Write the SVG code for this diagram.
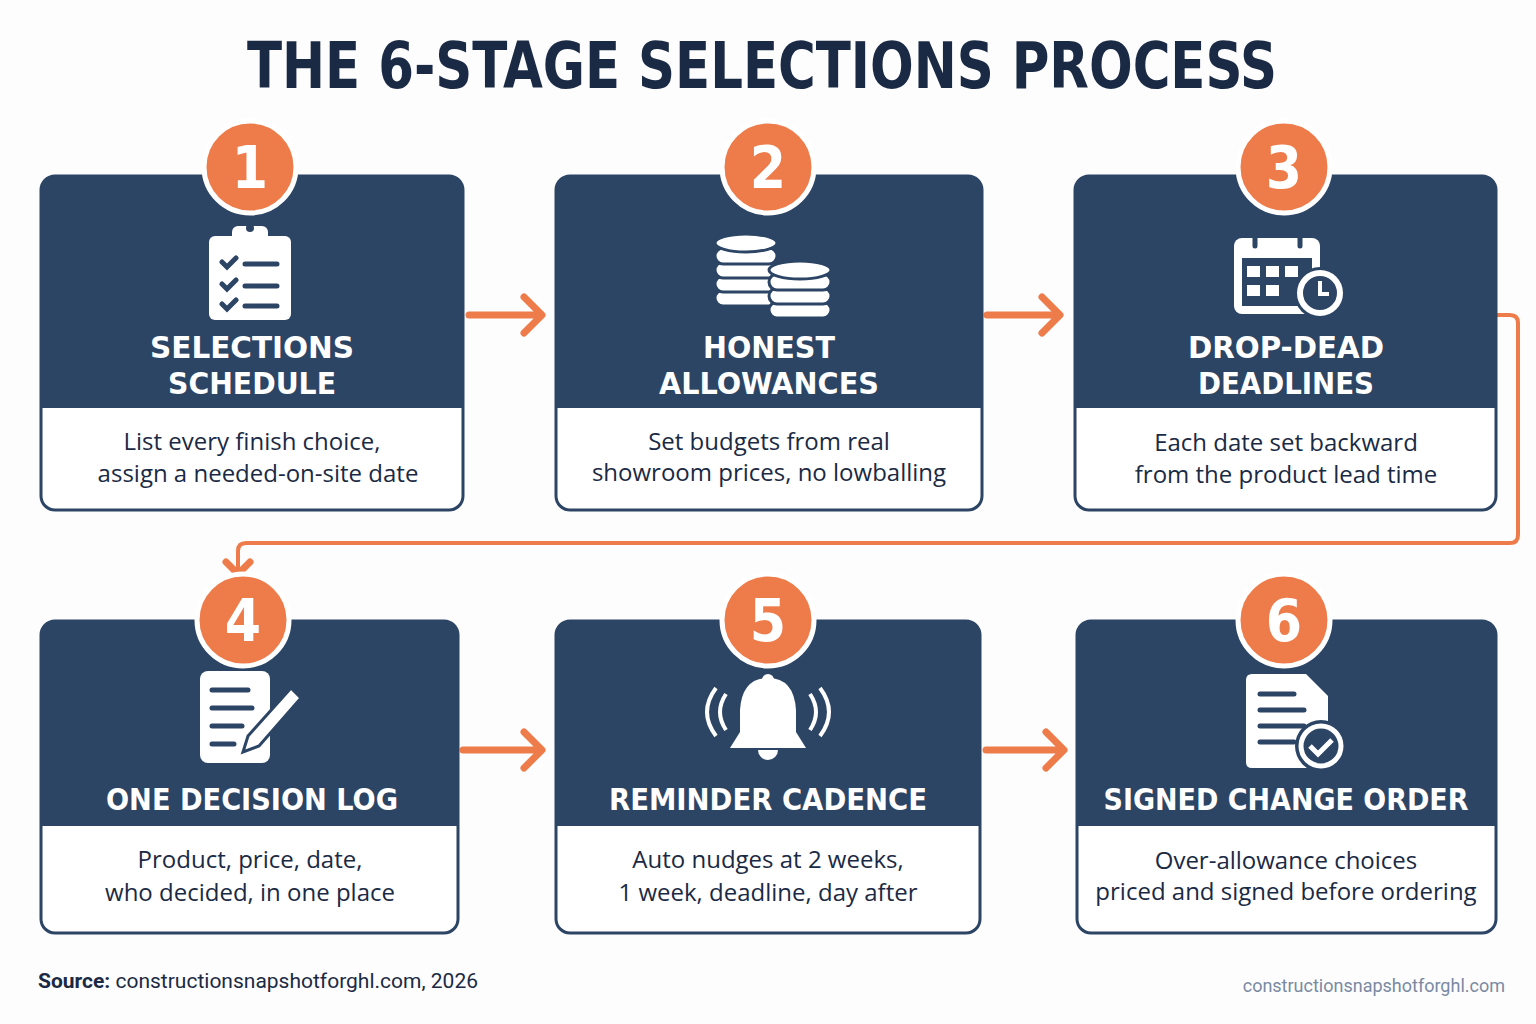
<svg xmlns="http://www.w3.org/2000/svg" width="1536" height="1024" viewBox="0 0 1536 1024">
<defs>
<style>
.hd{fill:#2d4565}
.bd{fill:#fff;stroke:#2d4565;stroke-width:3}
.num{fill:#ee7b4a;stroke:#fff;stroke-width:5}
.nt{font-family:"DejaVu Sans Condensed","DejaVu Sans",sans-serif;font-weight:bold;font-size:58px;fill:#fff;text-anchor:middle}
.tt{font-family:"DejaVu Sans Condensed","DejaVu Sans",sans-serif;font-weight:bold;font-size:31px;fill:#fff;text-anchor:middle}
.bt{font-family:"Open Sans",sans-serif;font-size:24px;fill:#1b2a44;text-anchor:middle}
.ar{stroke:#ee7b4a;stroke-width:7;fill:none;stroke-linecap:round;stroke-linejoin:round}
.ic{fill:#fff}
.icd{stroke:#2d4565;stroke-width:5;fill:none;stroke-linecap:round}
</style>
</defs>
<rect width="1536" height="1024" fill="#fdfdfd"/>
<text x="762" y="88" font-family="DejaVu Sans Condensed,DejaVu Sans,sans-serif" font-weight="bold" font-size="64" fill="#1b2a44" text-anchor="middle" textLength="1030" lengthAdjust="spacingAndGlyphs">THE 6-STAGE SELECTIONS PROCESS</text>

<g id="connectors">
<path class="ar" d="M469 315H540M524 297L542 315L524 333"/>
<path class="ar" d="M987 315H1058M1042 297L1060 315L1042 333"/>
<path class="ar" d="M463 750H540M524 732L542 750L524 768"/>
<path class="ar" d="M986 750H1062M1046 732L1064 750L1046 768"/>
<path stroke="#ee7b4a" stroke-width="4" fill="none" d="M1496 315H1510Q1518 315 1518 323V535Q1518 543 1510 543H246Q238 543 238 551V572"/>
<path class="ar" stroke-width="4" d="M226 562L238 574L250 562"/>
</g>

<g id="n1">
<rect class="bd" x="41" y="176" width="422" height="334" rx="14"/>
<path class="hd" d="M41 190Q41 176 55 176H449Q463 176 463 190V408H41Z"/>
<rect class="ic" x="209" y="236" width="82" height="84" rx="6"/>
<rect class="ic" x="232" y="226" width="36" height="18" rx="6"/><circle cx="250" cy="228" r="4" fill="#2d4565"/>
<path class="icd" d="M222 262l5 5 9-9M245 264h32M222 284l5 5 9-9M245 286h32M222 304l5 5 9-9M245 306h32"/>
<text class="tt" x="252" y="358" textLength="204" lengthAdjust="spacingAndGlyphs">SELECTIONS</text><text class="tt" x="252" y="394" textLength="168" lengthAdjust="spacingAndGlyphs">SCHEDULE</text>
<text class="bt" x="252" y="450">List every finish choice,</text><text class="bt" x="258" y="482">assign a needed-on-site date</text>
<circle class="num" cx="250" cy="167" r="46"/><text class="nt" x="250" y="188">1</text>
</g>

<g id="n2">
<rect class="bd" x="556" y="176" width="426" height="334" rx="14"/>
<path class="hd" d="M556 190Q556 176 570 176H968Q982 176 982 190V408H556Z"/>
<g class="ic" stroke="#2d4565" stroke-width="3"><rect x="715" y="290" width="62" height="16" rx="8"/><rect x="715" y="276" width="62" height="16" rx="8"/><rect x="715" y="262" width="62" height="16" rx="8"/><rect x="715" y="248" width="62" height="16" rx="8"/><ellipse cx="746" cy="243" rx="31" ry="9"/>
<rect x="769" y="302" width="62" height="16" rx="8"/><rect x="769" y="288" width="62" height="16" rx="8"/><rect x="769" y="274" width="62" height="16" rx="8"/><ellipse cx="800" cy="270" rx="31" ry="9"/></g>
<text class="tt" x="769" y="358" textLength="132" lengthAdjust="spacingAndGlyphs">HONEST</text><text class="tt" x="769" y="394" textLength="220" lengthAdjust="spacingAndGlyphs">ALLOWANCES</text>
<text class="bt" x="769" y="450">Set budgets from real</text><text class="bt" x="769" y="481">showroom prices, no lowballing</text>
<circle class="num" cx="768" cy="167" r="46"/><text class="nt" x="768" y="188">2</text>
</g>

<g id="n3">
<rect class="bd" x="1075" y="176" width="421" height="334" rx="14"/>
<path class="hd" d="M1075 190Q1075 176 1089 176H1482Q1496 176 1496 190V408H1075Z"/>
<rect class="ic" x="1234" y="238" width="86" height="76" rx="8"/>
<rect x="1242" y="258" width="70" height="48" fill="#2d4565"/>
<g class="ic"><rect x="1247" y="266" width="13" height="11"/><rect x="1266" y="266" width="13" height="11"/><rect x="1285" y="266" width="13" height="11"/><rect x="1247" y="285" width="13" height="11"/><rect x="1266" y="285" width="13" height="11"/></g>
<path class="icd" stroke="#fff" d="M1255 230v16M1300 230v16"/>
<circle cx="1320" cy="293" r="26" fill="#2d4565"/><circle cx="1320" cy="293" r="20" fill="none" stroke="#fff" stroke-width="6"/><path d="M1320 281v13h9" stroke="#fff" stroke-width="4" fill="none"/>
<text class="tt" x="1286" y="358" textLength="196" lengthAdjust="spacingAndGlyphs">DROP-DEAD</text><text class="tt" x="1286" y="394" textLength="176" lengthAdjust="spacingAndGlyphs">DEADLINES</text>
<text class="bt" x="1286" y="451">Each date set backward</text><text class="bt" x="1286" y="483">from the product lead time</text>
<circle class="num" cx="1284" cy="167" r="46"/><text class="nt" x="1284" y="188">3</text>
</g>

<g id="n4">
<rect class="bd" x="41" y="621" width="417" height="312" rx="14"/>
<path class="hd" d="M41 635Q41 621 55 621H444Q458 621 458 635V826H41Z"/>
<rect class="ic" x="200" y="671" width="70" height="92" rx="8"/>
<path class="icd" d="M212 690h36M212 708h40M212 726h30M212 744h22"/>
<path d="M291 688l10 10-42 48-16 6 5-16z" fill="#fff" stroke="#2d4565" stroke-width="3"/>
<text class="tt" x="252" y="810" textLength="292" lengthAdjust="spacingAndGlyphs">ONE DECISION LOG</text>
<text class="bt" x="250" y="868">Product, price, date,</text><text class="bt" x="250" y="901">who decided, in one place</text>
<circle class="num" cx="243" cy="620" r="46"/><text class="nt" x="243" y="641">4</text>
</g>

<g id="n5">
<rect class="bd" x="556" y="621" width="424" height="312" rx="14"/>
<path class="hd" d="M556 635Q556 621 570 621H966Q980 621 980 635V826H556Z"/>
<path class="ic" d="M768 678q-26 0-28 32v22l-10 16h76l-10-16v-22q-2-32-28-32z"/><circle class="ic" cx="768" cy="680" r="6"/><path class="ic" d="M758 750h20a10 10 0 0 1-20 0z"/>
<path d="M726 694q-12 18 0 36M716 688q-18 24 0 48M810 694q12 18 0 36M820 688q18 24 0 48" stroke="#fff" stroke-width="4" fill="none"/>
<text class="tt" x="768" y="810" textLength="318" lengthAdjust="spacingAndGlyphs">REMINDER CADENCE</text>
<text class="bt" x="768" y="868">Auto nudges at 2 weeks,</text><text class="bt" x="768" y="901">1 week, deadline, day after</text>
<circle class="num" cx="768" cy="620" r="46"/><text class="nt" x="768" y="641">5</text>
</g>

<g id="n6">
<rect class="bd" x="1077" y="621" width="419" height="312" rx="14"/>
<path class="hd" d="M1077 635Q1077 621 1091 621H1482Q1496 621 1496 635V826H1077Z"/>
<path class="ic" d="M1252 674h54l22 22v72h-76q-6 0-6-6v-82q0-6 6-6z"/>
<path class="icd" d="M1260 694h34M1260 710h44M1260 726h44M1260 742h34"/>
<circle cx="1321" cy="746" r="26" fill="#2d4565"/><circle cx="1321" cy="746" r="20" fill="none" stroke="#fff" stroke-width="5"/><path d="M1310 746l8 8 14-14" stroke="#fff" stroke-width="5" fill="none"/>
<text class="tt" x="1286" y="810" textLength="365" lengthAdjust="spacingAndGlyphs">SIGNED CHANGE ORDER</text>
<text class="bt" x="1286" y="869">Over-allowance choices</text><text class="bt" x="1286" y="900">priced and signed before ordering</text>
<circle class="num" cx="1284" cy="620" r="46"/><text class="nt" x="1284" y="641">6</text>
</g>

<text x="38" y="988" font-family="Roboto,sans-serif" font-size="21" fill="#1b2a44"><tspan font-weight="bold">Source:</tspan> constructionsnapshotforghl.com, 2026</text>
<text x="1505" y="992" font-family="Roboto,sans-serif" font-size="18" fill="#7a8aa3" text-anchor="end">constructionsnapshotforghl.com</text>
</svg>
